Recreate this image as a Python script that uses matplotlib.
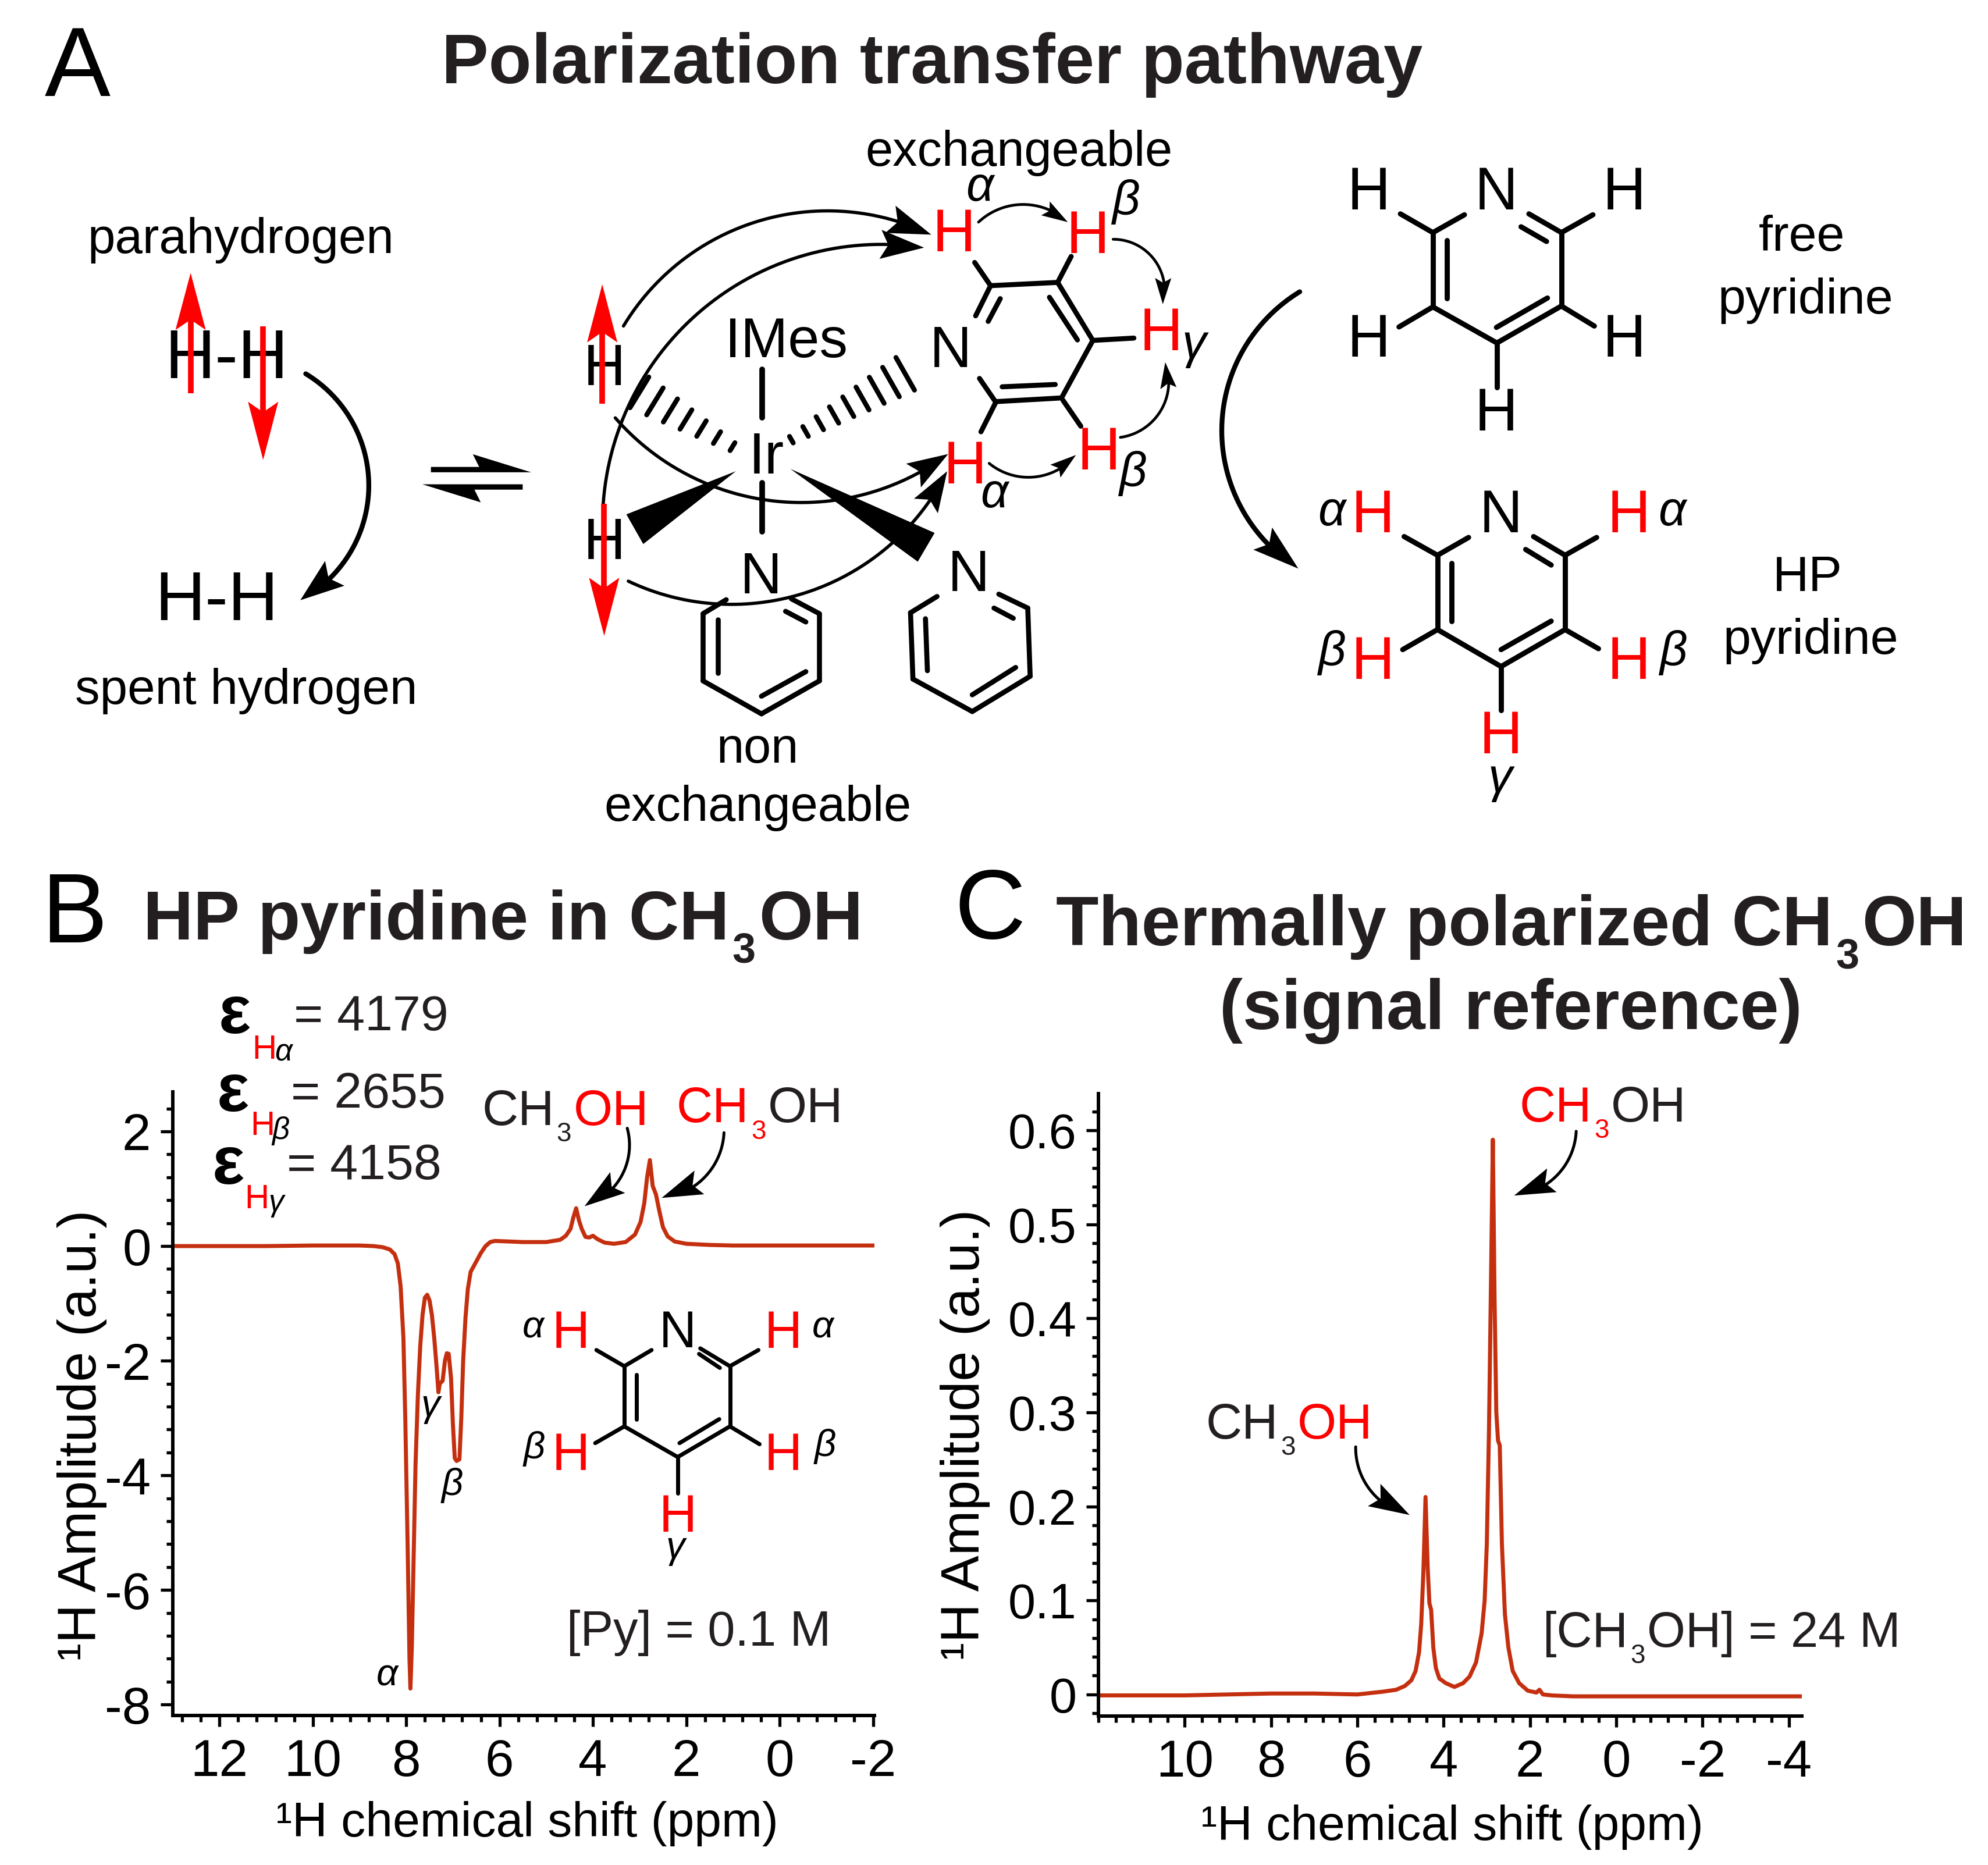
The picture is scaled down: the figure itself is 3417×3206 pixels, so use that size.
import numpy as np
import matplotlib
matplotlib.use('Agg')
import matplotlib.pyplot as plt
from matplotlib.patches import Polygon
from matplotlib.ticker import MultipleLocator

plt.rcParams['font.family'] = ['Liberation Sans', 'DejaVu Sans']
plt.rcParams['axes.unicode_minus'] = False

# spectrum B, HP pyridine in CH3OH
ppm_b = [13, 12, 11, 10, 9, 8.7, 8.5, 8.35, 8.25, 8.18, 8.12, 8.06, 8.02, 7.97, 7.93, 7.91, 7.88, 7.84, 7.8, 7.75,
         7.7, 7.65, 7.6, 7.55, 7.5, 7.45, 7.4, 7.35, 7.31, 7.28, 7.22, 7.17, 7.13, 7.09, 7.04, 7.0, 6.96, 6.92,
         6.86, 6.82, 6.78, 6.73, 6.68, 6.62, 6.52, 6.4, 6.3, 6.2, 6.1, 5.5, 5, 4.7, 4.58, 4.48, 4.42, 4.36, 4.3,
         4.24, 4.16, 4.08, 4.0, 3.9, 3.75, 3.55, 3.3, 3.1, 2.98, 2.9, 2.84, 2.78, 2.72, 2.65, 2.58, 2.5, 2.4, 2.25,
         2.0, 1.5, 1, 0, -1, -2.03]
amp_b = [0, 0, 0, 0.01, 0.01, 0, -0.02, -0.06, -0.14, -0.3, -0.7, -1.6, -3.0, -5.2, -7.2, -7.72, -7.0, -5.4, -3.8, -2.6,
         -1.75, -1.2, -0.9, -0.85, -0.95, -1.2, -1.6, -2.1, -2.55, -2.4, -2.35, -2.0, -1.87, -1.88, -2.3, -3.1, -3.7, -3.75,
         -3.72, -3.0, -2.0, -1.25, -0.75, -0.45, -0.3, -0.12, 0.0, 0.07, 0.09, 0.07, 0.07, 0.11, 0.18, 0.3, 0.5, 0.66, 0.45,
         0.3, 0.16, 0.15, 0.18, 0.12, 0.06, 0.04, 0.07, 0.2, 0.42, 0.75, 1.2, 1.5, 1.05, 0.9, 0.62, 0.33, 0.17, 0.08,
         0.04, 0.02, 0.01, 0.01, 0.01, 0.01]

# spectrum C, thermally polarized CH3OH
ppm_c = [12, 11, 10, 9, 8, 7, 6, 5.4, 5.1, 4.9, 4.75, 4.65, 4.57, 4.52, 4.47, 4.42, 4.37, 4.33, 4.29, 4.24, 4.18, 4.1,
         3.95, 3.75, 3.55, 3.4, 3.25, 3.12, 3.05, 3.0, 2.95, 2.9, 2.86, 2.82, 2.78, 2.74, 2.7, 2.65, 2.58, 2.5, 2.4,
         2.25, 2.05, 1.85, 1.78, 1.7, 1.5, 1, 0, -1, -2, -3, -4.3]
amp_c = [-0.001, -0.001, -0.001, 0, 0.001, 0.001, 0, 0.003, 0.005, 0.009, 0.015, 0.025, 0.045, 0.075, 0.13, 0.21, 0.135, 0.097,
         0.09, 0.05, 0.028, 0.017, 0.012, 0.008, 0.012, 0.019, 0.034, 0.065, 0.1, 0.16, 0.28, 0.45, 0.59, 0.42, 0.3, 0.27,
         0.265, 0.16, 0.085, 0.05, 0.025, 0.012, 0.004, 0.002, 0.005, 0.0, -0.001, -0.002, -0.002, -0.002, -0.002, -0.002, -0.002]

xticks_b = [12, 10, 8, 6, 4, 2, 0, -2]
xlabels_b = ['12', '10', '8', '6', '4', '2', '0', '-2']
yticks_b = [2, 0, -2, -4, -6, -8]
ylabels_b = ['2', '0', '-2', '-4', '-6', '-8']
xticks_c = [10, 8, 6, 4, 2, 0, -2, -4]
xlabels_c = ['10', '8', '6', '4', '2', '0', '-2', '-4']
yticks_c = [0, 0.1, 0.2, 0.3, 0.4, 0.5, 0.6]
ylabels_c = ['0', '0.1', '0.2', '0.3', '0.4', '0.5', '0.6']

W, H = 3417, 3206
DARK = '#231f20'
RED = '#ff0000'
LINE = '#c4300f'

fig = plt.figure(figsize=(W / 100, H / 100), dpi=100, facecolor='white')


def make_axes(x0, x1, y0, y1):
    ax = fig.add_axes([x0 / W, 1 - y1 / H, (x1 - x0) / W, (y1 - y0) / H])
    ax.spines['top'].set_visible(False)
    ax.spines['right'].set_visible(False)
    ax.spines['left'].set_linewidth(4.3)
    ax.spines['bottom'].set_linewidth(4.3)
    ax.patch.set_alpha(0)
    return ax


def style_axes(ax, minor_x, minor_y, ysize):
    ax.xaxis.set_minor_locator(MultipleLocator(minor_x))
    ax.yaxis.set_minor_locator(MultipleLocator(minor_y))
    ax.tick_params(axis='x', which='major', length=14, width=3.8, labelsize=64, pad=14)
    ax.tick_params(axis='y', which='major', length=15, width=3.8, labelsize=ysize, pad=12)
    ax.tick_params(which='minor', length=8, width=3.8)


# panel B
axb = make_axes(297, 1503, 1877, 2949)
axb.plot(ppm_b, amp_b, color=LINE, lw=5, solid_joinstyle='round')
axb.set_xlim(13, -2.03)
axb.set_ylim(-8.19, 2.69)
axb.set_xticks(xticks_b)
axb.set_xticklabels(xlabels_b)
axb.set_yticks(yticks_b)
axb.set_yticklabels(ylabels_b)
style_axes(axb, 0.4, 0.4, 64)
axb.set_xlabel('¹H chemical shift (ppm)', fontsize=60.5)
axb.set_ylabel('¹H Amplitude (a.u.)', fontsize=67)
axb.xaxis.set_label_coords(0.505, -0.137)
axb.yaxis.set_label_coords(-0.094, 0.449)

# panel C
axc = make_axes(1888, 3097, 1880, 2950)
axc.plot(ppm_c, amp_c, color=LINE, lw=5, solid_joinstyle='round')
axc.set_xlim(12, -4.3)
axc.set_ylim(-0.023, 0.639)
axc.set_xticks(xticks_c)
axc.set_xticklabels(xlabels_c)
axc.set_yticks(yticks_c)
axc.set_yticklabels(ylabels_c)
style_axes(axc, 0.4, 0.02, 61)
axc.set_xlabel('¹H chemical shift (ppm)', fontsize=60.5)
axc.set_ylabel('¹H Amplitude (a.u.)', fontsize=67)
axc.xaxis.set_label_coords(0.503, -0.142)
axc.yaxis.set_label_coords(-0.154, 0.452)

# everything else goes on a sheet in picture pixels
sheet = fig.add_axes([0, 0, 1, 1])
sheet.set_xlim(0, W)
sheet.set_ylim(H, 0)
sheet.axis('off')
sheet.patch.set_alpha(0)


# the crops the drawing was measured on, back to picture pixels
def mapper(x0, y0, sx, sy):
    return lambda x, y: (x0 + x * sx, y0 + y * sy)


z1 = mapper(0, 1700, 1.02, 0.958)     # panel B
z2 = mapper(1600, 1700, 1.159, 0.96)  # panel C
z3 = mapper(900, 200, 1 / 1.206, 1 / 1.254)   # iridium complex
z5 = mapper(2100, 220, 1 / 1.254, 1 / 1.307)  # free and HP pyridine
z6 = mapper(100, 340, 1 / 1.845, 1 / 1.742)   # hydrogen


def label(p, s, size, color='black', ha='center', weight='normal', style='normal', rise=0.358):
    # p is the centre of a capital letter
    px = size / 0.72
    return sheet.text(p[0], p[1] + rise * px, s, fontsize=size, color=color, ha=ha, va='baseline',
                      fontweight=weight, fontstyle=style)


GREEK_RISE = {'α': 0.26, 'β': 0.26, 'γ': 0.16}


def greek(p, s, size):
    label(p, s, size, style='italic', rise=GREEK_RISE[s])


def pieces(p, parts, size, sub_size, weight='normal', sub_drop=0.33):
    # runs of text with colour changes, the ones flagged True are subscripts
    renderer = fig.canvas.get_renderer()
    x = p[0]
    base = p[1] + 0.358 * size / 0.72
    for s, color, is_sub in parts:
        fs = sub_size if is_sub else size
        y = base + (sub_drop * size / 0.72 if is_sub else 0)
        t = sheet.text(x, y, s, fontsize=fs, color=color, ha='left', va='baseline', fontweight=weight)
        x = t.get_window_extent(renderer).x1 + size * 0.06


def bonds(conv, pairs, lw):
    for a, b in pairs:
        pa, pb = conv(*a), conv(*b)
        sheet.plot([pa[0], pb[0]], [pa[1], pb[1]], color='black', lw=lw, solid_capstyle='round')


def head(tip, tail, length, half, color):
    tip = np.array(tip, float)
    d = tip - np.array(tail, float)
    d = d / np.hypot(*d)
    n = np.array([-d[1], d[0]])
    base = tip - d * length
    notch = tip - d * length * 0.82
    sheet.add_patch(Polygon([tip, base + n * half, notch, base - n * half], closed=True, fc=color, ec='none', zorder=5))


def arrow(p0, mid, p1, lw, length, half, color='black'):
    # circular arc through the three points, head along the tangent at the end
    ax_, ay = p0
    bx, by = mid
    cx, cy = p1
    d = 2 * (ax_ * (by - cy) + bx * (cy - ay) + cx * (ay - by))
    ux = ((ax_**2 + ay**2) * (by - cy) + (bx**2 + by**2) * (cy - ay) + (cx**2 + cy**2) * (ay - by)) / d
    uy = ((ax_**2 + ay**2) * (cx - bx) + (bx**2 + by**2) * (ax_ - cx) + (cx**2 + cy**2) * (bx - ax_)) / d
    r = np.hypot(ax_ - ux, ay - uy)
    t0 = np.arctan2(ay - uy, ax_ - ux)
    t1 = np.arctan2(by - uy, bx - ux)
    t2 = np.arctan2(cy - uy, cx - ux)
    # go the way that passes the middle point
    sweep = (t2 - t0) % (2 * np.pi)
    if (t1 - t0) % (2 * np.pi) > sweep:
        sweep = sweep - 2 * np.pi
    stop = sweep - np.sign(sweep) * (length * 0.75) / r
    ts = t0 + np.linspace(0, stop, 60)
    sheet.plot(ux + r * np.cos(ts), uy + r * np.sin(ts), color=color, lw=lw, solid_capstyle='round', zorder=4)
    # chord across the head gives the direction it points in
    back = t0 + sweep - np.sign(sweep) * length / r
    head(p1, (ux + r * np.cos(back), uy + r * np.sin(back)), length, half, color)


def shaft(conv, a, b, lw, color):
    pa, pb = conv(*a), conv(*b)
    sheet.plot([pa[0], pb[0]], [pa[1], pb[1]], color=color, lw=lw, solid_capstyle='butt', zorder=6)


# titles and letters
label((133, 104), 'A', 122)
label((128, 1559), 'B', 122)
label((1702, 1552), 'C', 122)
label((1602, 100), 'Polarization transfer pathway', 87, color=DARK, weight='bold')
pieces((246, 1572), [('HP pyridine in CH', DARK, False), ('3', DARK, True), ('OH', DARK, False)], 86, 52, weight='bold')
pieces((1815, 1582), [('Thermally polarized CH', DARK, False), ('3', DARK, True), ('OH', DARK, False)], 86.5, 52, weight='bold')
label((2597, 1726), '(signal reference)', 86.5, color=DARK, weight='bold')

# hydrogen on the left
label(z6(580, 113), 'parahydrogen', 61.5)
label(z6(597, 1463), 'spent hydrogen', 61.5)
label(z6(533, 465), 'H-H', 86)
label(z6(503, 1190), 'H-H', 86)
shaft(z6, (420, 585), (420, 330), 7, RED)
head(z6(420, 225), z6(420, 585), 98, 26, RED)
shaft(z6, (650, 385), (650, 680), 7, RED)
head(z6(650, 785), z6(650, 385), 100, 26, RED)
arrow(z6(785, 527), z6(985, 860), z6(768, 1205), 6, 75, 27)
for outline in ([(1182, 806), (1335, 806), (1315, 768), (1500, 822), (1182, 822)],
                [(1473, 858), (1155, 858), (1340, 912), (1320, 874), (1473, 874)]):
    sheet.add_patch(Polygon([z6(*q) for q in outline], closed=True, fc='black', ec='none'))

# iridium complex
label(z3(545, 475), 'IMes', 70)
label(z3(503, 725), 'Ir', 72)
label(z3(167, 535), 'H', 72)
label(z3(167, 910), 'H', 72)
bonds(z3, [((495, 545), (495, 650)), ((495, 790), (495, 895))], 7)
for q in ([(440, 765), (213, 858), (248, 922)], [(553, 760), (852, 898), (817, 960)]):
    sheet.add_patch(Polygon([z3(*a) for a in q], closed=True, fc='black', ec='none'))
# hashed bonds get longer away from the metal
for cx, cy, half in zip(np.linspace(433, 240, 7), np.linspace(712, 595, 7), np.linspace(10, 39, 7)):
    bonds(z3, [((cx - 0.5 * half, cy + 0.85 * half), (cx + 0.5 * half, cy - 0.85 * half))], 6)
for cx, cy, half in zip(np.linspace(555, 791, 9), np.linspace(697, 555, 9), np.linspace(8, 40, 9)):
    bonds(z3, [((cx - 0.48 * half, cy - 0.88 * half), (cx + 0.48 * half, cy + 0.88 * half))], 6)

# exchangeable pyridine
bonds(z3, [((935, 315), (968, 365)), ((968, 365), (1107, 358)), ((1107, 358), (1135, 302)),
           ((1107, 358), (1180, 483)), ((1090, 390), (1148, 482)), ((1180, 483), (1265, 478)),
           ((1180, 483), (1115, 607)), ((1115, 607), (978, 615)), ((1102, 578), (992, 583)),
           ((1118, 612), (1155, 668)), ((978, 615), (945, 565)), ((978, 618), (948, 680)),
           ((968, 365), (937, 430)), ((988, 393), (963, 442))], 6.2)
label(z3(885, 495), 'N', 72)
for q in [(892, 245), (1170, 248), (1322, 458), (1192, 715), (915, 745)]:
    label(z3(*q), 'H', 74, color=RED)
greek(z3(945, 155), 'α', 60)
greek(z3(1248, 185), 'β', 60)
greek(z3(1390, 505), 'γ', 60)
greek(z3(1262, 770), 'β', 60)
greek(z3(975, 815), 'α', 60)
label(z3(1027, 68), 'exchangeable', 61)

# the two bound pyridines below
bonds(z3, [((420, 1042), (372, 1072)), ((372, 1072), (372, 1217)), ((372, 1217), (493, 1288)),
           ((493, 1288), (613, 1217)), ((613, 1217), (613, 1072)), ((613, 1072), (555, 1040)),
           ((403, 1085), (403, 1200)), ((493, 1250), (585, 1197)), ((543, 1067), (585, 1090)),
           ((857, 1035), (802, 1070)), ((802, 1070), (807, 1213)), ((807, 1213), (930, 1283)),
           ((930, 1283), (1050, 1207)), ((1050, 1207), (1045, 1060)), ((1045, 1060), (985, 1030)),
           ((833, 1083), (837, 1195)), ((930, 1247), (1020, 1188)), ((975, 1060), (1015, 1082))], 6.2)
label(z3(492, 983), 'N', 72)
label(z3(922, 978), 'N', 72)
label(z3(485, 1355), 'non', 61)
label(z3(485, 1480), 'exchangeable', 61)

# transfer arrows around the complex
arrow(z3(207, 452), z3(480, 228), z3(845, 255), 4, 75, 25)
arrow(z3(165, 835), z3(345, 440), z3(830, 283), 4, 75, 25)
arrow(z3(190, 650), z3(490, 825), z3(880, 728), 4, 70, 24)
arrow(z3(217, 1002), z3(590, 1025), z3(878, 765), 4, 70, 24)
arrow(z3(943, 228), z3(1035, 190), z3(1128, 228), 3.4, 45, 14)
arrow(z3(1222, 265), z3(1300, 300), z3(1325, 405), 3.4, 45, 14)
arrow(z3(965, 748), z3(1050, 778), z3(1145, 730), 3.4, 45, 14)
arrow(z3(1237, 692), z3(1310, 650), z3(1330, 530), 3.4, 45, 14)
shaft(z3, (163, 620), (163, 460), 7, RED)
head(z3(163, 362), z3(163, 620), 100, 26, RED)
shaft(z3, (167, 835), (167, 1020), 7, RED)
head(z3(167, 1120), z3(167, 835), 100, 26, RED)

# free pyridine
bonds(z5, [((455, 235), (455, 402)), ((455, 402), (593, 483)), ((593, 483), (732, 400)), ((732, 400), (732, 235)),
           ((455, 235), (523, 195)), ((732, 235), (662, 193)), ((455, 235), (385, 193)), ((732, 235), (800, 195)),
           ((455, 402), (382, 447)), ((732, 400), (803, 445)), ((593, 483), (593, 583)),
           ((485, 252), (485, 383)), ((592, 448), (702, 382)), ((645, 222), (700, 255))], 6.4)
label(z5(592, 135), 'N', 74)
for q in [(317, 135), (868, 135), (317, 465), (868, 465), (592, 632)]:
    label(z5(*q), 'H', 74)
label(z5(1250, 236), 'free', 62)
label(z5(1258, 376), 'pyridine', 62)

# HP pyridine
bonds(z5, [((465, 960), (465, 1127)), ((465, 1127), (602, 1210)), ((602, 1210), (740, 1127)), ((740, 1127), (740, 960)),
           ((465, 960), (532, 920)), ((740, 960), (672, 918)), ((465, 960), (393, 918)), ((740, 960), (808, 920)),
           ((465, 1127), (390, 1172)), ((740, 1127), (812, 1170)), ((602, 1210), (602, 1308)),
           ((495, 978), (495, 1108)), ((602, 1172), (710, 1108)), ((655, 947), (710, 982))], 6.4)
label(z5(602, 860), 'N', 74)
for q in [(326, 860), (877, 860), (326, 1190), (877, 1190), (602, 1357)]:
    label(z5(*q), 'H', 74, color=RED)
greek(z5(237, 865), 'α', 60)
greek(z5(970, 865), 'α', 60)
greek(z5(237, 1180), 'β', 60)
greek(z5(973, 1180), 'β', 60)
greek(z5(600, 1475), 'γ', 60)
label(z5(1262, 1000), 'HP', 62)
label(z5(1270, 1141), 'pyridine', 62)
arrow(z5(168, 368), z5(0, 680), z5(165, 990), 6, 80, 25)

# panel B notes
for (ex, ey), (hx, hy), greek_s, (gx, gy), (qx, qy), s in [
        ((395, 50), (445, 103), 'α', (478, 115), (495, 42), '= 4179'),
        ((392, 190), (442, 240), 'β', (473, 255), (490, 181), '= 2655'),
        ((385, 320), (433, 372), 'γ', (465, 390), (483, 309), '= 4158')]:
    label(z1(ex, ey), 'ε', 84, weight='bold', rise=0.24)
    label(z1(hx, hy), 'H', 42, color=RED)
    greek(z1(gx, gy), greek_s, 38)
    label(z1(qx, qy), s, 62, color=DARK, ha='left')
pieces(z1(812, 212), [('CH', DARK, False), ('3', DARK, True), ('OH', RED, False)], 62, 33)
pieces(z1(1140, 207), [('CH', RED, False), ('3', RED, True), ('OH', DARK, False)], 62, 33)
arrow(z1(1057, 250), z1(1045, 340), z1(985, 390), 3.6, 70, 22)
arrow(z1(1220, 258), z1(1190, 335), z1(1115, 375), 3.6, 70, 22)
greek(z1(725, 755), 'γ', 47)
greek(z1(762, 890), 'β', 47)
greek(z1(652, 1232), 'α', 47)

# pyridine inset in B
bonds(z1, [((1052, 677), (1052, 785)), ((1052, 785), (1142, 840)), ((1142, 840), (1230, 785)), ((1230, 785), (1230, 677)),
           ((1052, 677), (1098, 648)), ((1230, 677), (1180, 645)), ((1052, 677), (1005, 648)), ((1230, 677), (1278, 648)),
           ((1052, 785), (1003, 815)), ((1230, 785), (1280, 817)), ((1142, 840), (1142, 905)),
           ((1073, 692), (1073, 772)), ((1145, 815), (1212, 772)), ((1178, 655), (1213, 680))], 5)
label(z1(1142, 610), 'N', 64)
for q in [(962, 610), (1320, 610), (962, 830), (1320, 830), (1142, 940)]:
    label(z1(*q), 'H', 65, color=RED)
greek(z1(898, 608), 'α', 47)
greek(z1(1387, 608), 'α', 47)
greek(z1(900, 825), 'β', 47)
greek(z1(1390, 820), 'β', 47)
greek(z1(1138, 1010), 'γ', 47)
label(z1(955, 1147), '[Py] = 0.1 M', 61, color=DARK, ha='left')

# panel C notes
pieces(z2(873, 205), [('CH', RED, False), ('3', RED, True), ('OH', DARK, False)], 62, 33)
pieces(z2(408, 773), [('CH', DARK, False), ('3', DARK, True), ('OH', RED, False)], 62, 33)
arrow(z2(957, 255), z2(935, 325), z2(865, 370), 3.6, 70, 22)
arrow(z2(630, 820), z2(650, 895), z2(710, 942), 3.6, 70, 22)
pieces(z2(908, 1147), [('[CH', DARK, False), ('3', DARK, True), ('OH] = 24 M', DARK, False)], 61, 33)

fig.savefig('out.png', dpi=100, facecolor='white')
